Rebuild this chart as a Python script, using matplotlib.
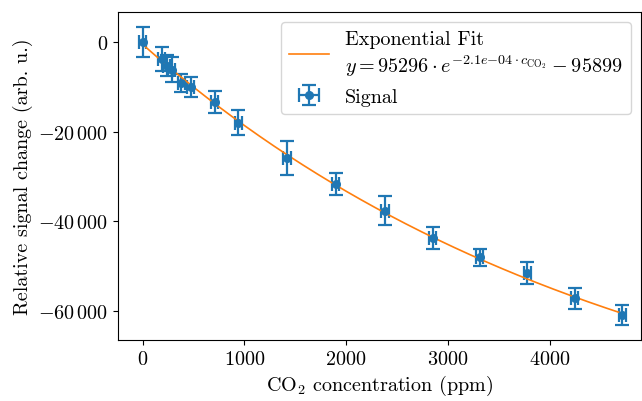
"""
CO2 signal change with exponential fit
"""

import numpy as np
import matplotlib
matplotlib.use('Agg')
import matplotlib.pyplot as plt
from matplotlib.ticker import FuncFormatter

# LaTeX-like look without LaTeX
plt.rcParams['font.family'] = 'serif'
plt.rcParams['font.serif'] = ['cmr10']
plt.rcParams['mathtext.fontset'] = 'cm'
plt.rcParams['axes.formatter.use_mathtext'] = True
plt.rcParams['axes.unicode_minus'] = True
plt.rcParams['font.size'] = 14.5

# data
co2_ppm = [0, 189, 238, 287, 379, 474, 710, 941, 1419, 1897, 2381, 2849, 3311, 3777, 4245, 4713]
signal = [0, -3850, -5340, -6230, -9180, -10010, -13350, -18090, -25870, -31650,
          -37600, -43680, -47970, -51460, -57090, -60800]
signal_err = [3340, 2670, 2300, 2780, 2040, 2220, 2480, 2780, 3700, 2520,
              3150, 2480, 1850, 2480, 2340, 2220]
co2_err = [35] * len(co2_ppm)

# fit parameters as printed in the legend
fit_a = 95296
fit_k = 2.1e-4
fit_c = 95899


def fmt_y(v, pos):
    s = f"{abs(int(round(v))):d}"
    if len(s) >= 5:
        s = s[:-3] + r"\,"+ s[-3:]
    if v < 0:
        s = "-" + s
    return f"${s}$"


fig = plt.figure(figsize=(6.42, 4.02), dpi=100)
ax = fig.add_axes([0.184, 0.152, 0.814, 0.815])

ax.errorbar(co2_ppm, signal, yerr=signal_err, xerr=co2_err, fmt='o', color='C0',
            ms=5.5, capsize=5, elinewidth=1.6, capthick=1.6, label='Signal')

x_fit = np.linspace(min(co2_ppm), max(co2_ppm), 300)
y_fit = fit_a * np.exp(-fit_k * x_fit) - fit_c
ax.plot(x_fit, y_fit, color='C1', lw=1.2,
        label='Exponential Fit\n'
              r'$y = 95296 \cdot e^{-2.1e{-}04 \cdot c_{\mathrm{CO_2}}} - 95899$')

ax.set_xlim(-240, 4893)
ax.set_ylim(-66360, 6540)
ax.set_xticks([0, 1000, 2000, 3000, 4000])
ax.set_yticks([0, -20000, -40000, -60000])
ax.yaxis.set_major_formatter(FuncFormatter(fmt_y))
ax.xaxis.set_major_formatter(FuncFormatter(lambda v, p: f"${int(v)}$"))

ax.set_xlabel(r'CO$_2$ concentration (ppm)')
ax.set_ylabel('Relative signal change (arb. u.)')

ax.legend(loc='upper right')

plt.savefig('out.png', dpi=100)
plt.close()
